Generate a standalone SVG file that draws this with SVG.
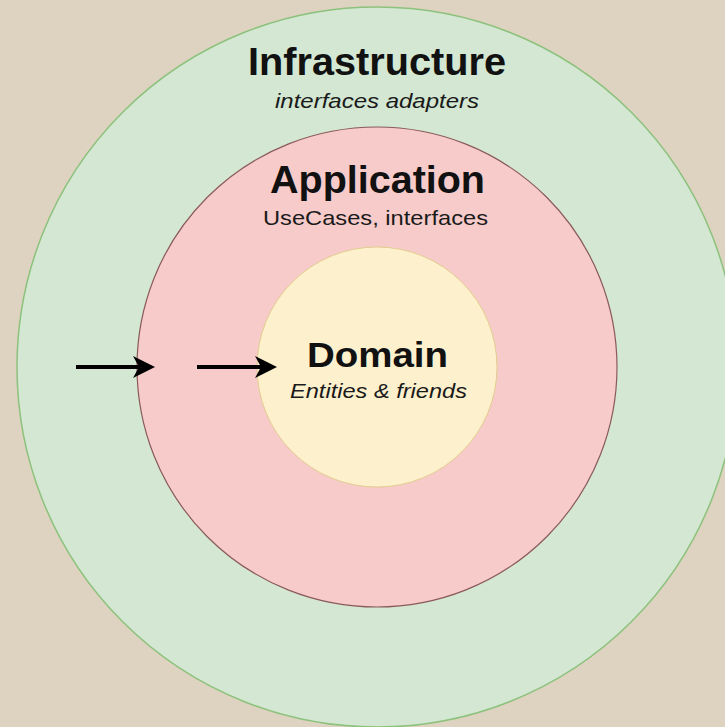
<svg xmlns="http://www.w3.org/2000/svg" width="725" height="727" viewBox="0 0 725 727">
  <style>
    .title { font-family: "Liberation Sans", Arial, sans-serif; font-weight: bold; fill: #111; text-anchor: middle; }
    .sub { font-family: "Liberation Sans", Arial, sans-serif; fill: #1a1a1a; text-anchor: middle; }
    .it { font-style: italic; }
    .edge { stroke: #000; stroke-width: 4; fill: none; }
  </style>
  <defs>
    <!-- classic notched arrowhead; reference point sits on the notch so the shaft ends inside it -->
    <marker id="arrow" markerUnits="userSpaceOnUse" markerWidth="24" markerHeight="24" refX="6" refY="11" orient="auto">
      <path d="M22,11 L0,0 L6,11 L0,22 Z" fill="#000"/>
    </marker>
  </defs>

  <!-- backdrop -->
  <rect width="725" height="727" fill="#ded2c0"/>

  <!-- outer ring -->
  <g id="infrastructure">
    <circle cx="377" cy="367" r="360" fill="#d3e7d3" stroke="#8cc27c" stroke-width="1.5"/>
    <text class="title" x="377" y="75" font-size="39" textLength="258" lengthAdjust="spacingAndGlyphs">Infrastructure</text>
    <text class="sub it" x="377" y="108" font-size="21" textLength="204" lengthAdjust="spacingAndGlyphs">interfaces adapters</text>
  </g>

  <!-- middle ring -->
  <g id="application">
    <circle cx="377" cy="367" r="240" fill="#f6cbca" stroke="#8a5a5a" stroke-width="1.2"/>
    <text class="title" x="377.5" y="193" font-size="38" textLength="215" lengthAdjust="spacingAndGlyphs">Application</text>
    <text class="sub" x="375.5" y="225" font-size="21" textLength="225" lengthAdjust="spacingAndGlyphs">UseCases, interfaces</text>
  </g>

  <!-- core -->
  <g id="domain">
    <circle cx="377" cy="367" r="120" fill="#fdf0cd" stroke="#e3cd8e" stroke-width="1"/>
    <text class="title" x="377.5" y="367" font-size="35" textLength="141" lengthAdjust="spacingAndGlyphs">Domain</text>
    <text class="sub it" x="378.5" y="398" font-size="21" textLength="177" lengthAdjust="spacingAndGlyphs">Entities &amp; friends</text>
  </g>

  <!-- dependency arrows pointing inward -->
  <g id="connectors">
    <line class="edge" x1="76" y1="367" x2="139" y2="367" marker-end="url(#arrow)"/>
    <line class="edge" x1="197" y1="367" x2="261" y2="367" marker-end="url(#arrow)"/>
  </g>
</svg>
